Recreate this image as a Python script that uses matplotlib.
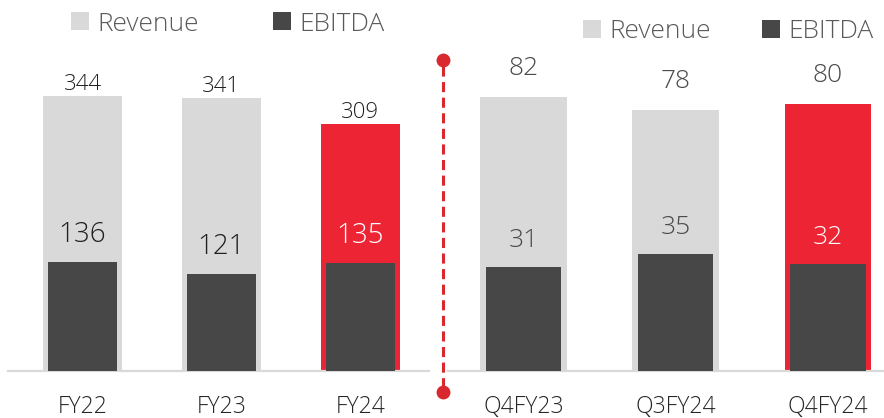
import matplotlib
matplotlib.use("Agg")
import matplotlib.pyplot as plt
from matplotlib.patches import Rectangle
from matplotlib.lines import Line2D
from matplotlib import font_manager

plt.rcParams['font.family'] = ['Open Sans', 'DejaVu Sans']
# use a light weight if the family offers one
_weights = {f.weight for f in font_manager.fontManager.ttflist if f.name == 'Open Sans'}
WEIGHT = 'light' if any(w in (300, 'light', 200) for w in _weights) else 'normal'

# ---- data ----
annual_labels = ["FY22", "FY23", "FY24"]
annual_revenue = [344, 341, 309]
annual_ebitda = [136, 121, 135]

quarter_labels = ["Q4FY23", "Q3FY24", "Q4FY24"]
quarter_revenue = [82, 78, 80]
quarter_ebitda = [31, 35, 32]

legend_labels = ["Revenue", "EBITDA"]

# ---- styles ----
C_REV = "#d9d9d9"
C_EBITDA = "#474747"
C_RED = "#ec2434"
C_LINE = "#d9282e"
C_TICK = "#262626"
C_LEG = "#595959"

W, H = 884, 418
fig = plt.figure(figsize=(W / 100, H / 100), dpi=100)


def fx(x):
    return x / W


def fy(y):
    return 1 - y / H


base_y = 371
top_y = 40

axL = fig.add_axes([fx(8), fy(base_y), fx(429 - 8), (base_y - top_y) / H])
axR = fig.add_axes([fx(448), fy(base_y), fx(884 - 448), (base_y - top_y) / H])


def setup(ax, xlim, ylim):
    ax.set_xlim(*xlim)
    ax.set_ylim(*ylim)
    for s in ["top", "right", "left"]:
        ax.spines[s].set_visible(False)
    ax.spines["bottom"].set_color(C_REV)
    ax.spines["bottom"].set_linewidth(1.6)
    ax.set_xticks([])
    ax.set_yticks([])
    ax.patch.set_alpha(0)


setup(axL, (-0.536, 2.493), (0, 414.1))
setup(axR, (-0.496, 2.368), (0, 99.07))


def draw(ax, labels, rev, ebit, wrev, webit, rev_off, rev_fs, ebit_fs, tcol):
    xs = list(range(len(labels)))
    colors = [C_REV] * (len(labels) - 1) + [C_RED]
    ax.bar(xs, rev, width=wrev, color=colors, zorder=2)
    ax.bar(xs, ebit, width=webit, color=C_EBITDA, zorder=3)
    for i, x in enumerate(xs):
        ax.annotate(str(rev[i]), xy=(x, rev[i]), xytext=(0, rev_off),
                    textcoords="offset points", ha="center", va="baseline",
                    fontsize=rev_fs, color=tcol, fontweight=WEIGHT)
        ecol = "white" if i == len(xs) - 1 else tcol
        ax.annotate(str(ebit[i]), xy=(x, ebit[i]), xytext=(0, 14.4),
                    textcoords="offset points", ha="center", va="baseline",
                    fontsize=ebit_fs, color=ecol, fontweight=WEIGHT)
        ax.annotate(labels[i], xy=(x, 0), xycoords=("data", "axes fraction"),
                    xytext=(0, -30.2), textcoords="offset points",
                    ha="center", va="baseline", fontsize=16.5, color=C_TICK,
                    fontweight=WEIGHT, annotation_clip=False)


draw(axL, annual_labels, annual_revenue, annual_ebitda, 0.568, 0.496, 4.3, 16, 20, "#1f1f1f")
draw(axR, quarter_labels, quarter_revenue, quarter_ebitda, 0.571, 0.493, 15.8, 19, 19, "#4a4a4a")

# ---- separator dashed line ----
fig.add_artist(Line2D([fx(443), fx(443)], [fy(66), fy(386)], transform=fig.transFigure,
                      color=C_LINE, lw=2.2, linestyle=(0, (3.3, 1.8))))
fig.add_artist(Line2D([fx(443), fx(443)], [fy(60), fy(392)], transform=fig.transFigure,
                      color=C_LINE, lw=0, marker="o", markersize=10,
                      markeredgewidth=0, markerfacecolor=C_LINE))


# ---- legends ----
def legend_item(sq_x, sq_y, text_x, base, color, label):
    fig.add_artist(Rectangle((fx(sq_x), fy(sq_y + 18)), 18 / W, 18 / H,
                             transform=fig.transFigure, color=color, lw=0))
    fig.text(fx(text_x), fy(base), label, fontsize=19, color=C_LEG,
             ha="left", va="baseline", fontweight=WEIGHT)


legend_item(71, 12, 97, 31, C_REV, legend_labels[0])
legend_item(273, 12, 299, 31, C_EBITDA, legend_labels[1])
legend_item(583, 20, 609, 38, C_REV, legend_labels[0])
legend_item(762, 20, 788, 38, C_EBITDA, legend_labels[1])

fig.savefig("out.png", dpi=100)
